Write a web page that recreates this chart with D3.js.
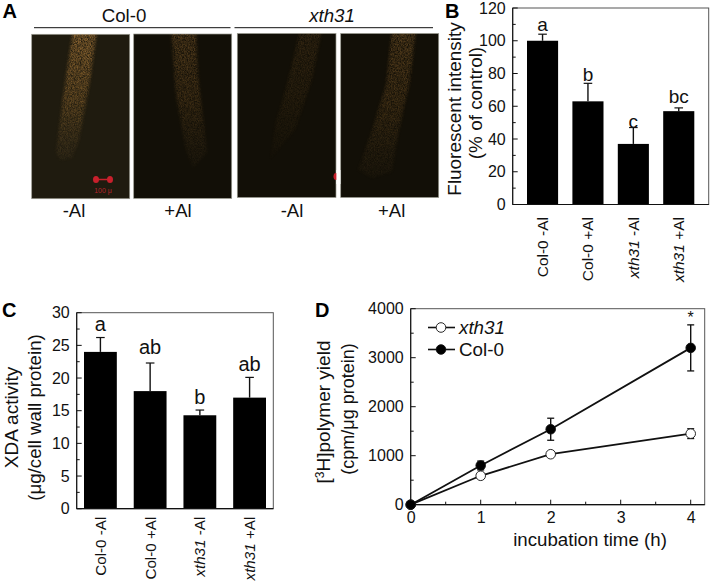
<!DOCTYPE html>
<html><head><meta charset="utf-8">
<script src="https://cdn.jsdelivr.net/npm/d3@7/dist/d3.min.js"></script>
<style>html,body{margin:0;background:#fff}svg{display:block}text{font-family:"Liberation Sans",Arial,sans-serif;fill:#111}</style>
</head><body><div id="c"></div>
<script>
const barCategories=[["Col-0"," -Al"],["Col-0"," +Al"],["xth31"," -Al"],["xth31"," +Al"]];
const bValues=[100,63,37,57];
const bErrors=[4,11,10,2];
const bLetters=["a","b","c","bc"];
const cValues=[24,18,14.3,17];
const cErrors=[2.2,4.3,0.8,3.1];
const cLetters=["a","ab","b","ab"];
const times=[0,1,2,4];
const xth31=[0,590,1030,1450];
const xth31Err=[0,50,40,100];
const col0=[0,800,1540,3200];
const col0Err=[0,90,225,470];
const panelAConditions=["-Al","+Al","-Al","+Al"];
const panelAIntensity=[0.6,0.32,0.17,0.34];

const svg=d3.select("#c").append("svg").attr("width",711).attr("height",582).attr("viewBox","0 0 711 582");
const ink="#111";
function letter(t,x,y){svg.append("text").attr("x",x).attr("y",y).attr("font-weight","bold").attr("font-size",20).style("fill","#000").text(t);}
letter("A",2.5,18);letter("B",445,17.5);letter("C",2,316.7);letter("D",315,316.7);

// ---- Panel A
const defs=svg.append("defs");
const f=defs.append("filter").attr("id","speck").attr("x","-10%").attr("y","-10%").attr("width","120%").attr("height","120%");
f.append("feGaussianBlur").attr("in","SourceGraphic").attr("stdDeviation",1.6).attr("result","b");
f.append("feTurbulence").attr("type","fractalNoise").attr("baseFrequency","1.3 0.7").attr("numOctaves",2).attr("seed",4).attr("result","n");
f.append("feColorMatrix").attr("in","n").attr("type","matrix").attr("values","0 0 0 0 1 0 0 0 0 1 0 0 0 0 1 0 0 0 1.8 -0.35").attr("result","a");
f.append("feComposite").attr("in","b").attr("in2","a").attr("operator","in").attr("result","c");
f.append("feGaussianBlur").attr("in","c").attr("stdDeviation",0.3);
const imgs=[
 {x:31.7,y:34.3,w:98,h:164.4,cx:74,bg:"#1f1b0f",root:[[73,30],[97,30],[90,80],[79,140],[72,158],[60,160],[56,152],[64,90]]},
 {x:133.7,y:34,w:98,h:164.4,cx:178,bg:"#120f07",root:[[171,30],[196,30],[198,75],[207,152],[193,168],[186,150],[176,95]]},
 {x:237.3,y:33.5,w:98.7,h:164,cx:292,bg:"#120f07",root:[[300,30],[322,30],[312,80],[295,130],[270,160],[275,125],[288,80]]},
 {x:340.7,y:33.5,w:98,h:164,cx:391.7,bg:"#120f07",root:[[392,30],[416,30],[410,80],[398,135],[392,172],[372,178],[358,170],[372,130],[386,85]]}];
imgs.forEach((d,i)=>{
 const g=defs.append("linearGradient").attr("id","rg"+i).attr("x1",0).attr("y1",0).attr("x2",0).attr("y2",1);
 g.append("stop").attr("offset",0).attr("stop-color","#d8994a").attr("stop-opacity",1);
 g.append("stop").attr("offset",0.55).attr("stop-color","#b98238").attr("stop-opacity",0.75);
 g.append("stop").attr("offset",1).attr("stop-color","#8a6a3a").attr("stop-opacity",0.25);
 defs.append("clipPath").attr("id","cp"+i).append("rect").attr("x",d.x).attr("y",d.y).attr("width",d.w).attr("height",d.h);
 svg.append("rect").attr("x",d.x).attr("y",d.y).attr("width",d.w).attr("height",d.h).attr("fill",d.bg).attr("stroke","#9a9a90").attr("stroke-width",0.7);
 svg.append("g").attr("clip-path","url(#cp"+i+")").append("path").attr("d",d3.line().curve(d3.curveLinearClosed)(d.root)).attr("fill","url(#rg"+i+")").attr("opacity",panelAIntensity[i]).attr("filter","url(#speck)");
 svg.append("text").attr("x",d.cx).attr("y",216.7).attr("text-anchor","middle").attr("font-size",18.5).text(panelAConditions[i]);
});
svg.append("line").attr("x1",97).attr("x2",109).attr("y1",179.5).attr("y2",179.5).attr("stroke","#c8202c").attr("stroke-width",1.5);
[96,110].forEach(x=>svg.append("ellipse").attr("cx",x).attr("cy",179.5).attr("rx",3).attr("ry",3.6).attr("fill","#c8202c"));
svg.append("text").attr("x",103).attr("y",193).attr("text-anchor","middle").attr("font-size",7).style("fill","#b3242c").text("100 \u03bc");
svg.append("ellipse").attr("cx",336).attr("cy",176.5).attr("rx",2.5).attr("ry",3.4).attr("fill","#c8202c");
svg.append("rect").attr("x",336.4).attr("y",170).attr("width",4).attr("height",14).attr("fill","#fff");
[[34,230.5],[234.5,433]].forEach(([a,b])=>svg.append("line").attr("x1",a).attr("x2",b).attr("y1",27.7).attr("y2",27.7).attr("stroke",ink).attr("stroke-width",1));
svg.append("text").attr("x",124).attr("y",21.7).attr("text-anchor","middle").attr("font-size",18.7).text("Col-0");
svg.append("text").attr("x",332).attr("y",21.7).attr("text-anchor","middle").attr("font-size",18.7).attr("font-style","italic").text("xth31");

// ---- Axes helpers
function frame(L,R,T,B){
 svg.append("rect").attr("x",L).attr("y",T).attr("width",R-L).attr("height",B-T).attr("fill","none").attr("stroke","#555").attr("stroke-width",1);
 svg.append("line").attr("x1",L).attr("x2",L).attr("y1",T).attr("y2",B).attr("stroke",ink).attr("stroke-width",1.1);
}
function yAxis(y,L,major,minor,size){
 const g=svg.append("g").attr("transform",`translate(${L},0)`);
 g.call(d3.axisLeft(y).tickValues(major).tickSize(0).tickPadding(7).tickFormat(d3.format("d")));
 g.select(".domain").remove();
 g.selectAll("text").attr("font-size",size).style("font-family",'"Liberation Sans",Arial,sans-serif').style("fill",ink);
 g.selectAll("line.mj").data(major).enter().append("line").attr("y1",d=>y(d)).attr("y2",d=>y(d)).attr("x1",0).attr("x2",5).attr("stroke",ink);
 g.selectAll("line.mn").data(minor).enter().append("line").attr("y1",d=>y(d)).attr("y2",d=>y(d)).attr("x1",0).attr("x2",3).attr("stroke",ink);
}
function baseLine(L,R,B){svg.append("line").attr("x1",L).attr("x2",R).attr("y1",B).attr("y2",B).attr("stroke",ink).attr("stroke-width",1.2);}
function rotated(t,x,y,size){return svg.append("text").attr("transform",`translate(${x},${y}) rotate(-90)`).attr("text-anchor","middle").attr("font-size",size).text(t);}

function barPanel(o){
 const y=d3.scaleLinear().domain([0,o.max]).range([o.B,o.T]);
 const x=d3.scaleBand().domain(d3.range(4)).range(o.xr).paddingInner(o.pad).paddingOuter(0);
 frame(o.L,o.R,o.T,o.B);
 yAxis(y,o.L,o.major,o.minor,16);
 const g=svg.append("g");
 g.selectAll("line.e").data(o.values).enter().append("line").attr("x1",(d,i)=>x(i)+x.bandwidth()/2).attr("x2",(d,i)=>x(i)+x.bandwidth()/2).attr("y1",d=>y(d)).attr("y2",(d,i)=>y(d+o.errors[i])).attr("stroke",ink).attr("stroke-width",1.4);
 g.selectAll("line.c").data(o.values).enter().append("line").attr("x1",(d,i)=>x(i)+x.bandwidth()/2-4.3).attr("x2",(d,i)=>x(i)+x.bandwidth()/2+4.3).attr("y1",(d,i)=>y(d+o.errors[i])).attr("y2",(d,i)=>y(d+o.errors[i])).attr("stroke",ink).attr("stroke-width",1.2);
 g.selectAll("rect").data(o.values).enter().append("rect").attr("x",(d,i)=>x(i)).attr("width",x.bandwidth()).attr("y",d=>y(d)).attr("height",d=>o.B-y(d)).attr("fill","#000");
 baseLine(o.L,o.R,o.B);
 g.selectAll("text.l").data(o.letters).enter().append("text").attr("x",(d,i)=>x(i)+x.bandwidth()/2).attr("y",(d,i)=>y(o.values[i]+o.errors[i])-o.lgap[i]).attr("text-anchor","middle").attr("font-size",o.lsize).text(d=>d);
 barCategories.forEach((c,i)=>{
  const t=svg.append("text").attr("transform",`translate(${x(i)+x.bandwidth()/2+5.5},${o.B+o.catTop}) rotate(-90)`).attr("text-anchor","end").attr("font-size",o.csize);
  t.append("tspan").attr("font-style",c[0]=="xth31"?"italic":"normal").text(c[0]);
  t.append("tspan").text(c[1]);
 });
}
barPanel({L:512.7,R:708.7,T:8,B:204.5,max:120,xr:[527,694.3],pad:0.315,major:d3.range(0,121,20),minor:d3.range(10,120,20),values:bValues,errors:bErrors,letters:bLetters,lgap:[3,2,-0.5,5],catTop:12.5,csize:15.5,lsize:19});
rotated("Fluorescent intensity",460.7,109,18.9);
rotated("(% of control)",481.7,103,18.9);

barPanel({L:76.7,R:273.3,T:312.7,B:508.7,max:30,xr:[84,266],pad:0.34,major:d3.range(0,31,5),minor:[2.5,7.5,12.5,17.5,22.5,27.5],values:cValues,errors:cErrors,letters:cLetters,lgap:[7,9,6,6],catTop:8,csize:15.2,lsize:20});
rotated("XDA activity",18,417.5,19);
rotated("(\u03bcg/cell wall protein)",40.7,417.5,18.7);

// ---- Panel D
const L=410.7,R=704.7,T=308.7,B=504.7;
const x=d3.scaleLinear().domain([0,4.2]).range([L,R]);
const y=d3.scaleLinear().domain([0,4000]).range([B,T]);
frame(L,R,T,B);
yAxis(y,L,d3.range(0,4001,1000),d3.range(500,4000,1000),16);
const gx=svg.append("g").attr("transform",`translate(0,${B})`);
gx.call(d3.axisBottom(x).tickValues([0,1,2,3,4]).tickSize(0).tickPadding(7).tickFormat(d3.format("d")));
gx.select(".domain").remove();
gx.selectAll("text").attr("font-size",16).style("font-family",'"Liberation Sans",Arial,sans-serif').style("fill",ink);
gx.selectAll("line.mj").data([0,1,2,3,4]).enter().append("line").attr("x1",d=>x(d)).attr("x2",d=>x(d)).attr("y1",0).attr("y2",-5).attr("stroke",ink);
gx.selectAll("line.mn").data([.5,1.5,2.5,3.5]).enter().append("line").attr("x1",d=>x(d)).attr("x2",d=>x(d)).attr("y1",0).attr("y2",-3).attr("stroke",ink);
baseLine(L,R,B);
const line=d3.line().x((d,i)=>x(times[i])).y(d=>y(d));
function series(vals,errs,fill){
 const g=svg.append("g");
 g.append("path").attr("d",line(vals)).attr("fill","none").attr("stroke",ink).attr("stroke-width",1.8);
 vals.forEach((v,i)=>{ if(!errs[i])return;
  const X=x(times[i]);
  g.append("line").attr("x1",X).attr("x2",X).attr("y1",y(v-errs[i])).attr("y2",y(v+errs[i])).attr("stroke",ink).attr("stroke-width",1.4);
  [v-errs[i],v+errs[i]].forEach(e=>g.append("line").attr("x1",X-3.5).attr("x2",X+3.5).attr("y1",y(e)).attr("y2",y(e)).attr("stroke",ink).attr("stroke-width",1.3));
 });
 g.selectAll("circle").data(vals).enter().append("circle").attr("cx",(d,i)=>x(times[i])).attr("cy",d=>y(d)).attr("r",4.8).attr("fill",fill).attr("stroke",ink).attr("stroke-width",0.9);
}
series(xth31,xth31Err,"#fff");
series(col0,col0Err,"#000");
svg.append("text").attr("x",x(4)).attr("y",323).attr("text-anchor","middle").attr("font-size",16).text("*");
[["xth31","#fff","italic",327.5],["Col-0","#000","normal",349.5]].forEach(([t,f,s,yy])=>{
 svg.append("line").attr("x1",428).attr("x2",455).attr("y1",yy).attr("y2",yy).attr("stroke",ink).attr("stroke-width",1.6);
 svg.append("circle").attr("cx",441).attr("cy",yy).attr("r",4.8).attr("fill",f).attr("stroke",ink).attr("stroke-width",0.9);
 svg.append("text").attr("x",459).attr("y",yy+6.5).attr("font-size",18.8).attr("font-style",s).text(t);
});
svg.append("text").attr("x",590).attr("y",546).attr("text-anchor","middle").attr("font-size",18.7).text("incubation time (h)");
rotated("",330,412,19).call(t=>{
 t.append("tspan").text("[");
 t.append("tspan").attr("font-size",12).attr("dy",-6).text("3");
 t.append("tspan").attr("dy",6).text("H]polymer yield");
});
rotated("(cpm/\u03bcg protein)",354,409,18);
</script></body></html>
